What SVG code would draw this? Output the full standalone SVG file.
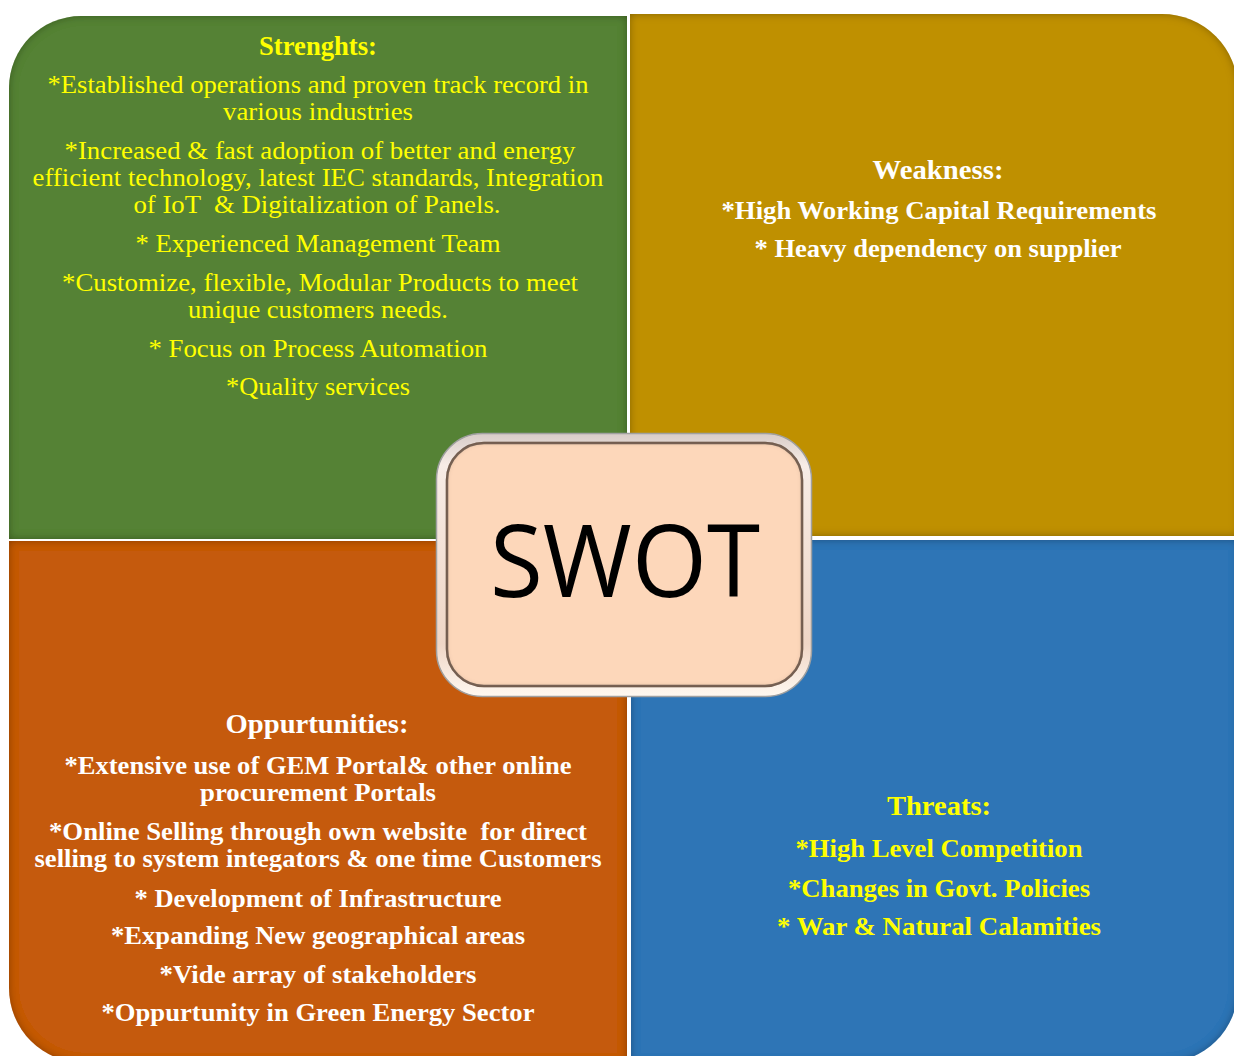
<svg xmlns="http://www.w3.org/2000/svg" width="1234" height="1056" viewBox="0 0 1234 1056">
  <defs>
    <style>
      text { font-family: "Liberation Serif", "Times New Roman", serif; text-anchor: middle; font-size: 26px; }
      .yel { fill: #FFFF00; }
      .wht { fill: #FFFFFF; }
      .b { font-weight: bold; }
      .ttl { font-size: 28px; font-weight: bold; }
      .swot { font-family: "Open Sans", "Liberation Sans", sans-serif; font-size: 100px; fill: #000; }
    </style>
    <!-- soft inner shadow along the edges of each quadrant -->
    <filter id="inset" x="-5%" y="-5%" width="110%" height="110%">
      <feFlood flood-color="#000" flood-opacity="0.6"/>
      <feComposite in2="SourceAlpha" operator="out"/>
      <feGaussianBlur stdDeviation="4"/>
      <feComposite in2="SourceAlpha" operator="in" result="sh"/>
      <feMerge><feMergeNode in="SourceGraphic"/><feMergeNode in="sh"/></feMerge>
    </filter>
    <filter id="insetSoft" x="-10%" y="-10%" width="120%" height="120%">
      <feFlood flood-color="#5a4030" flood-opacity="0.75"/>
      <feComposite in2="SourceAlpha" operator="out"/>
      <feGaussianBlur stdDeviation="2.5"/>
      <feComposite in2="SourceAlpha" operator="in" result="sh"/>
      <feMerge><feMergeNode in="SourceGraphic"/><feMergeNode in="sh"/></feMerge>
    </filter>
    <linearGradient id="bevel" x1="0" y1="0" x2="0" y2="1">
      <stop offset="0" stop-color="#d8ccc8"/>
      <stop offset="0.12" stop-color="#f7ece6"/>
      <stop offset="0.8" stop-color="#efd6c6"/>
      <stop offset="1" stop-color="#fff8f0"/>
    </linearGradient>
  </defs>

  <rect width="1234" height="1056" fill="#FFFFFF"/>

  <!-- Strengths -->
  <g id="strengths">
    <path d="M9,539 V88 A72,72 0 0 1 81,16 H627 V539 Z" fill="#548235" filter="url(#inset)"/>
    <text class="yel ttl" x="318" y="55" textLength="118" lengthAdjust="spacingAndGlyphs">Strenghts:</text>
    <text class="yel" x="318" y="93" textLength="541" lengthAdjust="spacingAndGlyphs">*Established operations and proven track record in</text>
    <text class="yel" x="318" y="120" textLength="190" lengthAdjust="spacingAndGlyphs">various industries</text>
    <text class="yel" x="320" y="159" textLength="511" lengthAdjust="spacingAndGlyphs">*Increased &amp; fast adoption of better and energy</text>
    <text class="yel" x="318" y="186" textLength="571" lengthAdjust="spacingAndGlyphs">efficient technology, latest IEC standards, Integration</text>
    <text class="yel" x="317" y="213" textLength="367" lengthAdjust="spacingAndGlyphs" xml:space="preserve">of IoT  &amp; Digitalization of Panels.</text>
    <text class="yel" x="318" y="252" textLength="365" lengthAdjust="spacingAndGlyphs">* Experienced Management Team</text>
    <text class="yel" x="320" y="291" textLength="516" lengthAdjust="spacingAndGlyphs">*Customize, flexible, Modular Products to meet</text>
    <text class="yel" x="318" y="318" textLength="260" lengthAdjust="spacingAndGlyphs">unique customers needs.</text>
    <text class="yel" x="318" y="357" textLength="339" lengthAdjust="spacingAndGlyphs">* Focus on Process Automation</text>
    <text class="yel" x="318" y="395" textLength="184" lengthAdjust="spacingAndGlyphs">*Quality services</text>
  </g>

  <!-- Weakness -->
  <g id="weakness">
    <path d="M630,14 H1162 A76,76 0 0 1 1238,90 V536 H630 Z" fill="#BF9000" filter="url(#inset)"/>
    <text class="wht ttl" x="938" y="179" textLength="131" lengthAdjust="spacingAndGlyphs">Weakness:</text>
    <text class="wht b" x="939" y="219" textLength="435" lengthAdjust="spacingAndGlyphs">*High Working Capital Requirements</text>
    <text class="wht b" x="938" y="257" textLength="367" lengthAdjust="spacingAndGlyphs">* Heavy dependency on supplier</text>
  </g>

  <!-- Opportunities -->
  <g id="opportunities">
    <path d="M9,541 H627 V1063 H84 A75,75 0 0 1 9,988 Z" fill="#C55A11" filter="url(#inset)"/>
    <text class="wht ttl" x="317" y="733" textLength="183" lengthAdjust="spacingAndGlyphs">Oppurtunities:</text>
    <text class="wht b" x="318" y="774" textLength="507" lengthAdjust="spacingAndGlyphs">*Extensive use of GEM Portal&amp; other online</text>
    <text class="wht b" x="318" y="801" textLength="236" lengthAdjust="spacingAndGlyphs">procurement Portals</text>
    <text class="wht b" x="318" y="840" textLength="538" lengthAdjust="spacingAndGlyphs" xml:space="preserve">*Online Selling through own website  for direct</text>
    <text class="wht b" x="318" y="867" textLength="567" lengthAdjust="spacingAndGlyphs">selling to system integators &amp; one time Customers</text>
    <text class="wht b" x="318" y="907" textLength="367" lengthAdjust="spacingAndGlyphs">* Development of Infrastructure</text>
    <text class="wht b" x="318" y="944" textLength="414" lengthAdjust="spacingAndGlyphs">*Expanding New geographical areas</text>
    <text class="wht b" x="318" y="983" textLength="317" lengthAdjust="spacingAndGlyphs">*Vide array of stakeholders</text>
    <text class="wht b" x="318" y="1021" textLength="433" lengthAdjust="spacingAndGlyphs">*Oppurtunity in Green Energy Sector</text>
  </g>

  <!-- Threats -->
  <g id="threats">
    <path d="M631,540 H1238 V988 A75,75 0 0 1 1163,1063 H631 Z" fill="#2E75B6" filter="url(#inset)"/>
    <text class="yel ttl" x="939" y="815" textLength="104" lengthAdjust="spacingAndGlyphs">Threats:</text>
    <text class="yel b" x="939" y="857" textLength="287" lengthAdjust="spacingAndGlyphs">*High Level Competition</text>
    <text class="yel b" x="939" y="897" textLength="302" lengthAdjust="spacingAndGlyphs">*Changes in Govt. Policies</text>
    <text class="yel b" x="939" y="935" textLength="324" lengthAdjust="spacingAndGlyphs">* War &amp; Natural Calamities</text>
  </g>

  <!-- Centre badge with bevelled frame -->
  <g id="swot">
    <rect x="436.5" y="433.5" width="375" height="263" rx="46" fill="url(#bevel)" stroke="#a0a0a0" stroke-width="1.5"/>
    <rect x="447" y="443" width="355" height="243" rx="37" fill="#FDD7BA" stroke="#7d685a" stroke-width="2.5" filter="url(#insetSoft)"/>
    <text class="swot" x="625" y="597" textLength="270" lengthAdjust="spacingAndGlyphs">SWOT</text>
  </g>
</svg>
